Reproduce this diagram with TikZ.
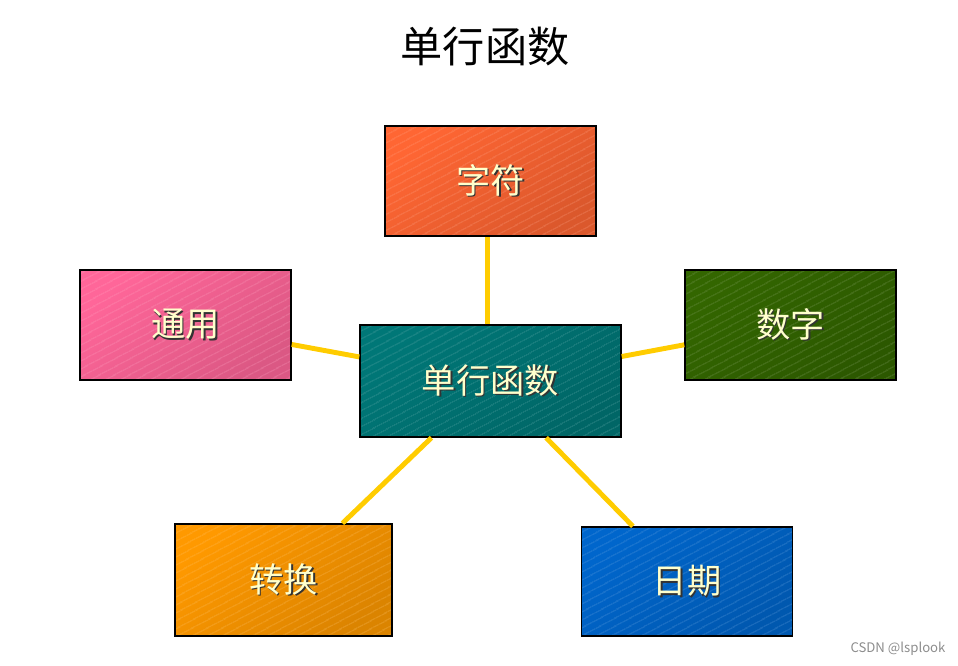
\documentclass[tikz,border=0pt]{standalone}
\usepackage{fontspec}
\setmainfont{Noto Sans CJK SC}
\usetikzlibrary{patterns.meta}
\definecolor{charfill}{HTML}{FF6633}
\definecolor{genfill}{HTML}{FF6699}
\definecolor{corefill}{HTML}{007777}
\definecolor{numfill}{HTML}{336600}
\definecolor{convfill}{HTML}{FF9900}
\definecolor{datefill}{HTML}{0066CC}
\definecolor{linkclr}{HTML}{FFCC00}
\definecolor{txtclr}{HTML}{FFFFCC}
\newcommand{\shtext}[1]{\rlap{\hspace{0.9pt}\raisebox{-0.9pt}{\color{black!80}#1}}#1}
\tikzset{
  fbox/.style={rectangle, line width=0.85pt,
               top color=#1, bottom color=#1!86!black, shading angle=40,
               minimum width=4.22cm, minimum height=2.2cm, inner sep=0pt,
               text=txtclr, font=\fontsize{19.5}{23}\selectfont,
               postaction={pattern={Lines[angle=28, distance=4pt, line width=0.22pt]},
                           pattern color=#1!84!white},
               postaction={draw=black, line width=0.85pt}},
  fbox/.default=corefill,
  link/.style={line width=2.8pt, draw=linkclr},
}

\begin{document}
\begin{tikzpicture}[x=0.02cm, y=-0.02cm]
  \useasboundingbox (0,0) rectangle (958,666);
  \node[font=\fontsize{24}{28}\selectfont] (title) at (485,47) {单行函数};

  \node[fbox=charfill] (char) at (490.5,181) {\shtext{字符}};
  \node[fbox=genfill] (gen) at (185.5,325) {\shtext{通用}};
  \node[fbox=corefill, minimum width=5.22cm, minimum height=2.24cm] (core) at (490.5,381) {\shtext{单行函数}};
  \node[fbox=numfill] (num) at (790.5,325) {\shtext{数字}};
  \node[fbox=convfill, minimum width=4.34cm, minimum height=2.24cm] (conv) at (283.5,580) {\shtext{转换}};
  \node[fbox=datefill, minimum height=2.18cm] (date) at (687,581.5) {\shtext{日期}};

  \draw[link] ([xshift=-0.06cm]core.north) -- ([xshift=-0.06cm]char.south);
  \draw[link] (core) -- (gen);
  \draw[link] (core) -- (num);
  \draw[link] (core) -- (conv);
  \draw[link] (core) -- (date);

  \node[font=\fontsize{7.5}{9}\selectfont, text=black!45] (mark) at (898,649) {CSDN @lsplook};
\end{tikzpicture}
\end{document}
